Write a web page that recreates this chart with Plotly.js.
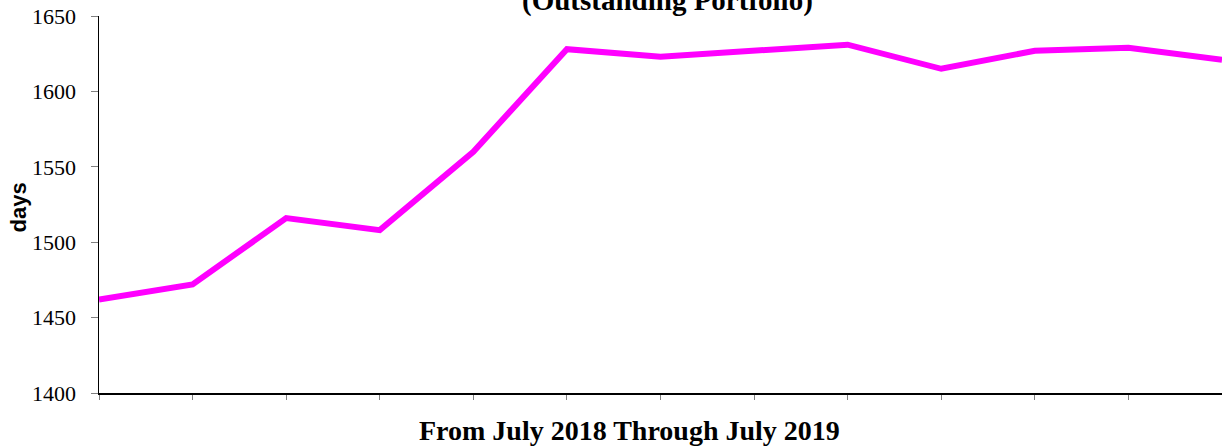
<!DOCTYPE html>
<html>
<head>
<meta charset="utf-8">
<script src="https://cdn.plot.ly/plotly-3.0.1.min.js"></script>
<style>html,body{margin:0;padding:0;background:#fff;}#chart{width:1222px;height:446px;}</style>
</head>
<body>
<div id="chart"></div>
<script>
const months = ["Jul 2018","Aug 2018","Sep 2018","Oct 2018","Nov 2018","Dec 2018","Jan 2019","Feb 2019","Mar 2019","Apr 2019","May 2019","Jun 2019","Jul 2019"];
const days = [1462, 1472, 1516, 1508, 1560, 1628, 1623, 1627, 1631, 1615, 1627, 1629, 1621];
const yTicks = [1400, 1450, 1500, 1550, 1600, 1650];
const titleText = "(Outstanding Portfolio)";
const xTitle = "From July 2018 Through July 2019";
const yTitle = "days";

const SERIF = "Liberation Serif";

const trace = {
  x: months.map((m, i) => i),
  y: days,
  type: "scatter",
  mode: "lines",
  line: {color: "#FF00FF", width: 6},
  hoverinfo: "skip"
};

const layout = {
  width: 1222, height: 446,
  margin: {l: 99, r: 0, t: 16, b: 53, pad: 0},
  font: {family: SERIF, color: "#000"},
  paper_bgcolor: "#fff", plot_bgcolor: "#fff",
  showlegend: false,
  xaxis: {
    range: [0, months.length - 1],
    tickmode: "array", tickvals: months.map((m, i) => i), ticktext: months.map(() => ""),
    showticklabels: false,
    ticks: "outside", ticklen: 5, tickcolor: "#808080", tickwidth: 1,
    showline: true, linecolor: "#000", linewidth: 1.5,
    showgrid: false, zeroline: false, fixedrange: true
  },
  yaxis: {
    range: [1400, 1650],
    tickmode: "array", tickvals: yTicks, ticktext: yTicks.map(String),
    ticks: "outside", ticklen: 7, tickcolor: "#808080", tickwidth: 1,
    ticklabelstandoff: 10,
    tickfont: {family: SERIF, size: 22, color: "#000"},
    showline: true, linecolor: "#000", linewidth: 1.5,
    showgrid: false, zeroline: false, fixedrange: true
  },
  annotations: [
    {text: "<b>" + titleText + "</b>", xref: "paper", yref: "paper", x: 0.506, y: 1.0, yshift: -3, xanchor: "center", yanchor: "bottom", showarrow: false,
     font: {family: SERIF, size: 29, color: "#000"}},
    {text: "<b>" + xTitle + "</b>", xref: "paper", yref: "paper", x: 0.472, y: 0, yshift: -20, xanchor: "center", yanchor: "top", showarrow: false,
     font: {family: SERIF, size: 28, color: "#000"}},
    {text: "<b>" + yTitle + "</b>", xref: "paper", yref: "paper", x: 0, xshift: -80, y: 0.492, xanchor: "center", yanchor: "middle", textangle: -90, showarrow: false,
     font: {family: "Liberation Sans", size: 22, color: "#000"}}
  ]
};

Plotly.newPlot("chart", [trace], layout, {displayModeBar: false, staticPlot: true});
</script>
</body>
</html>
